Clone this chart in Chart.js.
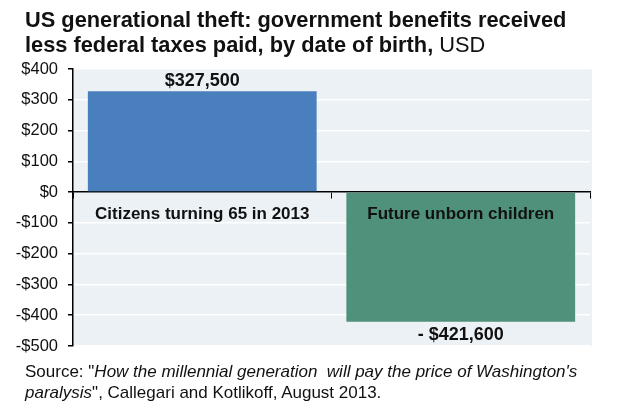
<!DOCTYPE html>
<html>
<head>
<meta charset="utf-8">
<script src="https://cdn.jsdelivr.net/npm/chart.js@4"></script>
<style>
  html, body { margin: 0; padding: 0; background: #fff; }
  #wrap { position: relative; width: 618px; height: 410px; overflow: hidden; font-family: "Liberation Sans", Arial, sans-serif; }
  #chart { position: absolute; left: 0; top: 0; }
  .title { position: absolute; left: 25px; top: 7px; font-size: 21.8px; font-weight: bold; line-height: 25px; color: #111; white-space: nowrap; }
  .title span { font-weight: normal; }
  .source { position: absolute; left: 25px; top: 361px; font-size: 17px; line-height: 21px; color: #111; white-space: nowrap; }
</style>
</head>
<body>
<div id="wrap">
  <canvas id="chart" width="618" height="410"></canvas>
  <div class="title">US generational theft: government benefits received<br>less federal taxes paid, by date of birth, <span>USD</span></div>
  <div class="source">Source: "<i>How the millennial generation&nbsp; will pay the price of Washington's<br>paralysis</i>", Callegari and Kotlikoff, August 2013.</div>
</div>
<script>
// 카테고리와 값 (천 달러 단위)
var categories = ['Citizens turning 65 in 2013', 'Future unborn children'];
var values = [327.5, -421.6];
var barColors = ['#4a7fbd', '#4f917b'];
var yTicks = [400, 300, 200, 100, 0, -100, -200, -300, -400, -500];

var FONT = '"Liberation Sans", Arial, sans-serif';

// 플롯 배경
var plotBg = {
    id: 'plotBg',
    beforeDraw: function(chart) {
        var a = chart.chartArea, ctx = chart.ctx;
        ctx.save();
        ctx.fillStyle = '#ebf1f5';
        ctx.fillRect(a.left, a.top, a.right - a.left + 2, a.bottom - a.top);
        ctx.restore();
    }
};

// 막대 값 라벨 + 카테고리 라벨 (막대 위에 그림)
var valueLabels = {
    id: 'valueLabels',
    afterDraw: function(chart) {
        var ctx = chart.ctx;
        var meta = chart.getDatasetMeta(0);
        var x = chart.scales.x, y = chart.scales.y;
        var zeroY = y.getPixelForValue(0);
        ctx.save();
        ctx.fillStyle = '#111';
        ctx.textAlign = 'center';
        meta.data.forEach(function(bar, i) {
            var v = values[i];
            var txt = (v < 0 ? '- $' : '$') + Math.round(Math.abs(v) * 1000).toLocaleString('en-US');
            ctx.font = 'bold 18px ' + FONT;
            if (v >= 0) {
                ctx.textBaseline = 'bottom';
                ctx.fillText(txt, bar.x, bar.y - 1);
            } else {
                ctx.textBaseline = 'top';
                ctx.fillText(txt, bar.x, bar.y + 4);
            }
            ctx.font = 'bold 17px ' + FONT;
            ctx.textBaseline = 'middle';
            ctx.fillText(categories[i], x.getPixelForValue(i), zeroY + 22);
        });
        ctx.restore();
    }
};

var ctx = document.getElementById('chart').getContext('2d');
new Chart(ctx, {
    type: 'bar',
    data: {
        labels: categories,
        datasets: [{
            data: values,
            backgroundColor: barColors,
            categoryPercentage: 1,
            barPercentage: 0.885
        }]
    },
    options: {
        responsive: false,
        animation: false,
        layout: { padding: { left: 0, right: 28, top: 69, bottom: 64 } },
        plugins: { legend: { display: false }, tooltip: { enabled: false } },
        scales: {
            x: {
                position: { y: 0 },
                z: 1,
                offset: true,
                grid: { offset: true, drawOnChartArea: false, tickLength: 6, tickColor: '#000' },
                border: { color: '#000', width: 1.5 },
                ticks: { display: false }
            },
            y: {
                min: -500,
                max: 400,
                afterFit: function(s) { s.width = 73; },
                afterBuildTicks: function(s) { s.ticks = yTicks.map(function(v) { return { value: v }; }); },
                grid: { color: '#ffffff', lineWidth: 1.5, tickLength: 5, tickColor: '#000' },
                border: { color: '#000', width: 1.5 },
                ticks: {
                    padding: 10,
                    color: '#111',
                    font: { family: FONT, size: 16.5 },
                    callback: function(v) { return (v < 0 ? '-$' : '$') + Math.abs(v); }
                }
            }
        }
    },
    plugins: [plotBg, valueLabels]
});
</script>
</body>
</html>
